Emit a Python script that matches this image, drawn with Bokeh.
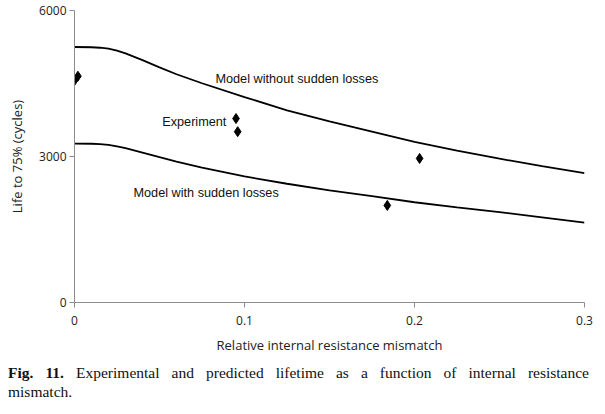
from bokeh.plotting import figure
from bokeh.models import FixedTicker, Label, Div
from bokeh.layouts import column
from bokeh.embed import file_html
from bokeh.resources import INLINE

# Model curves
model_x = [0, 0.01, 0.015, 0.02, 0.025, 0.03, 0.04, 0.05, 0.06, 0.075, 0.1, 0.125,
           0.15, 0.175, 0.2, 0.225, 0.25, 0.275, 0.3]
without_losses = [5250, 5245, 5235, 5215, 5175, 5120, 4980, 4830, 4690, 4505, 4220,
                  3950, 3720, 3510, 3300, 3120, 2955, 2800, 2660]
with_losses = [3265, 3262, 3255, 3240, 3210, 3170, 3080, 2985, 2895, 2770, 2590,
               2440, 2305, 2185, 2060, 1955, 1858, 1750, 1640]

# Experimental points
exp_x = [0.0, 0.002, 0.095, 0.096, 0.184, 0.203]
exp_y = [4560, 4650, 3780, 3510, 1995, 2960]

x_ticks = [0, 0.1, 0.2, 0.3]
x_tick_labels = ["0", "0.1", "0.2", "0.3"]
y_ticks = [0, 3000, 6000]

AX_FONT = "Open Sans"
LBL_FONT = "Liberation Sans"

p = figure(frame_width=510, frame_height=292, x_range=(0, 0.3), y_range=(0, 6000),
           output_backend="svg", toolbar_location=None,
           min_border_left=74, min_border_right=21, min_border_top=10, min_border_bottom=52)
p.outline_line_color = None
p.grid.visible = False
p.background_fill_color = "white"

for ax in (p.xaxis[0], p.yaxis[0]):
    ax.axis_line_color = "#8c8c8c"
    ax.major_tick_line_color = "#8c8c8c"
    ax.major_tick_out = 5
    ax.major_tick_in = 0
    ax.minor_tick_line_color = None
    ax.major_label_text_font = AX_FONT
    ax.major_label_text_font_size = "12px"
    ax.major_label_text_color = "#222222"
    ax.axis_label_text_font = AX_FONT
    ax.axis_label_text_font_size = "13px"
    ax.axis_label_text_font_style = "normal"
    ax.axis_label_text_color = "#222222"

p.xaxis.ticker = FixedTicker(ticks=x_ticks)
p.xaxis.major_label_overrides = {t: l for t, l in zip(x_ticks, x_tick_labels)}
p.yaxis.ticker = FixedTicker(ticks=y_ticks)
p.xaxis.axis_label = "Relative internal resistance mismatch"
p.yaxis.axis_label = "Life to 75% (cycles)"
p.xaxis.major_label_standoff = 8
p.xaxis.axis_label_standoff = 8
p.yaxis.major_label_standoff = 3
p.yaxis.axis_label_standoff = 10

p.line(model_x, without_losses, line_color="black", line_width=1.8)
p.line(model_x, with_losses, line_color="black", line_width=1.8)
p.scatter(exp_x, exp_y, marker="diamond", size=10, fill_color="black", line_color="black")

for x, y, t in [(0.0829, 4583, "Model without sudden losses"),
                (0.0516, 3699, "Experiment"),
                (0.0347, 2240, "Model with sudden losses")]:
    p.add_layout(Label(x=x, y=y, text=t, text_font=LBL_FONT, text_font_size="12.7px",
                       text_baseline="middle", text_color="#111111"))

caption = Div(
    text='<div style="width:589px;font-family:\'Liberation Serif\';'
         'font-size:15.5px;line-height:19px;color:#111;padding-top:7px;padding-left:8px;">'
         '<div style="text-align:justify;text-align-last:justify;">'
         '<b>Fig. 11.</b> Experimental and predicted lifetime as a function of internal '
         'resistance</div><div>mismatch.</div></div>',
    width=605, margin=(0, 0, 0, 0))

layout = column(p, caption, spacing=0)
open("out.html", "w").write(file_html(layout, INLINE))
